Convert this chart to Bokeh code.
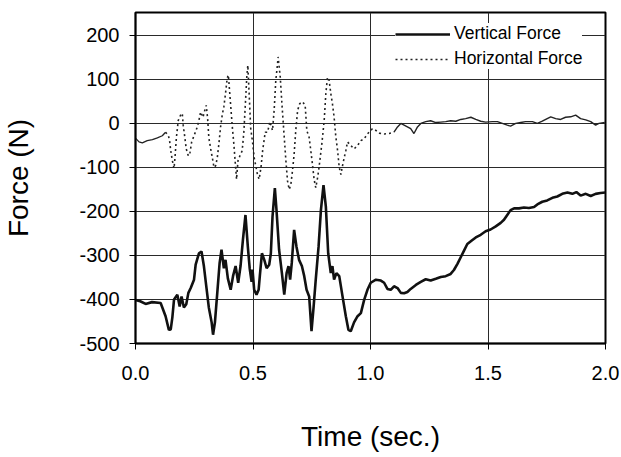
from bokeh.plotting import figure
from bokeh.models import FixedTicker, Legend, LegendItem, Range1d
from bokeh.embed import file_html
from bokeh.resources import INLINE
import numpy as np

# ---------------- data ----------------
vert_t = [0.000, 0.020, 0.043, 0.070, 0.107, 0.128, 0.142, 0.150, 0.157, 0.164, 0.178,
          0.188, 0.196, 0.206, 0.216, 0.225, 0.235, 0.249, 0.256, 0.270, 0.281, 0.291,
          0.301, 0.312, 0.324, 0.330, 0.338, 0.348, 0.358, 0.366, 0.376, 0.383, 0.393,
          0.405, 0.415, 0.426, 0.437, 0.447, 0.457, 0.468, 0.478, 0.486, 0.494, 0.498,
          0.505, 0.515, 0.524, 0.529, 0.538, 0.548, 0.558, 0.569, 0.576, 0.583, 0.593,
          0.600, 0.611, 0.623, 0.633, 0.643, 0.651, 0.658, 0.665, 0.675, 0.685, 0.696,
          0.708, 0.718, 0.728, 0.739, 0.749, 0.758, 0.767, 0.779, 0.789, 0.800, 0.810,
          0.820, 0.831, 0.838, 0.845, 0.855, 0.867, 0.881, 0.895, 0.906, 0.916, 0.930,
          0.945, 0.959, 0.973, 0.987, 1.001, 1.023, 1.044, 1.058, 1.072, 1.086, 1.100,
          1.115, 1.129, 1.143, 1.157, 1.171, 1.193, 1.214, 1.235, 1.256, 1.278, 1.299,
          1.320, 1.341, 1.355, 1.370, 1.384, 1.398, 1.412, 1.431, 1.448, 1.469, 1.490,
          1.511, 1.533, 1.554, 1.568, 1.582, 1.596, 1.611, 1.632, 1.653, 1.674, 1.696,
          1.710, 1.731, 1.752, 1.774, 1.795, 1.816, 1.838, 1.859, 1.876, 1.894, 1.916,
          1.937, 1.958, 1.979, 2.000]
vert_f = [-401, -404, -410, -406, -408, -438, -469, -468, -440, -400, -389,
          -416, -393, -418, -411, -385, -374, -355, -321, -295, -291, -324,
          -369, -418, -452, -480, -452, -385, -317, -287, -329, -310, -352,
          -378, -347, -324, -362, -324, -265, -208, -280, -330, -360, -332,
          -378, -389, -378, -347, -295, -310, -329, -321, -295, -212, -147,
          -197, -287, -340, -389, -340, -324, -355, -317, -242, -280, -310,
          -324, -347, -378, -393, -472, -416, -355, -280, -197, -140, -189,
          -295, -340, -324, -355, -340, -347, -393, -438, -469, -472, -452,
          -438, -431, -401, -378, -362, -355, -357, -362, -376, -378, -370,
          -374, -385, -386, -383, -376, -367, -360, -354, -357, -353, -349,
          -347, -342, -333, -319, -304, -289, -274, -266, -259, -253, -245,
          -241, -234, -226, -219, -208, -197, -193, -193, -191, -192, -190,
          -184, -178, -175, -169, -166, -160, -157, -160, -156, -164, -160,
          -165, -160, -158, -157]

horiz_t = [0.001, 0.015, 0.029, 0.050, 0.072, 0.093, 0.114, 0.128, 0.140, 0.145, 0.150,
           0.157, 0.164, 0.168, 0.174, 0.182, 0.192, 0.199, 0.203, 0.210, 0.216, 0.225,
           0.232, 0.239, 0.249, 0.263, 0.270, 0.277, 0.287, 0.295, 0.301, 0.307, 0.312,
           0.320, 0.327, 0.334, 0.341, 0.348, 0.355, 0.362, 0.369, 0.376, 0.383, 0.390,
           0.395, 0.400, 0.405, 0.412, 0.419, 0.426, 0.430, 0.436, 0.444, 0.454, 0.461,
           0.468, 0.474, 0.478, 0.486, 0.490, 0.498, 0.505, 0.519, 0.526, 0.534, 0.541,
           0.552, 0.562, 0.572, 0.583, 0.590, 0.597, 0.603, 0.607, 0.616, 0.623, 0.633,
           0.640, 0.647, 0.654, 0.661, 0.668, 0.675, 0.682, 0.690, 0.699, 0.711, 0.722,
           0.729, 0.739, 0.746, 0.753, 0.760, 0.767, 0.775, 0.781, 0.793, 0.803, 0.810,
           0.817, 0.824, 0.831, 0.838, 0.845, 0.852, 0.860, 0.867, 0.874, 0.881, 0.888,
           0.895, 0.902, 0.916, 0.930, 0.945, 0.959, 0.973, 0.987, 1.008, 1.023, 1.037,
           1.058, 1.079, 1.100, 1.115, 1.129, 1.143, 1.157, 1.171, 1.185, 1.200, 1.214,
           1.235, 1.256, 1.278, 1.299, 1.320, 1.341, 1.363, 1.384, 1.405, 1.427, 1.448,
           1.469, 1.490, 1.519, 1.540, 1.561, 1.582, 1.596, 1.618, 1.639, 1.660, 1.689,
           1.710, 1.731, 1.752, 1.767, 1.788, 1.809, 1.830, 1.852, 1.873, 1.894, 1.916,
           1.937, 1.958, 1.972, 1.997]
horiz_f = [-34, -42, -44, -39, -37, -33, -28, -20, -28, -39, -62,
           -85, -102, -78, -32, 7, 19, 23, -4, -32, -58, -74,
           -66, -42, -28, -8, 7, 26, 14, 30, 41, 11, -32,
           -58, -78, -100, -96, -78, -46, -8, 19, 38, 68, 102,
           110, 76, 41, -8, -50, -100, -127, -85, -74, -62, -20,
           49, 110, 132, 40, -10, -42, -78, -116, -127, -100, -62,
           -20, -20, 4, -16, 30, 98, 128, 151, 105, 45, -32,
           -85, -131, -150, -139, -108, -70, -16, 30, 45, 49, 41,
           -16, -32, -62, -93, -127, -146, -123, -100, -46, 7, 68,
           105, 98, 68, 45, 15, -28, -62, -100, -116, -96, -78,
           -62, -42, -50, -58, -50, -39, -35, -24, -12, -16, -22,
           -24, -23, -20, -8, 0, -4, -8, -12, -23, -8, 0,
           4, 6, 2, 3, 4, 6, 5, 9, 11, 14, 9,
           5, 3, 4, 4, 0, -4, -6, 0, 2, 4, 4,
           0, 5, 11, 15, 11, 9, 14, 15, 19, 11, 8,
           4, -4, 0, 2]

x_ticks = [0.0, 0.5, 1.0, 1.5, 2.0]
x_tick_labels = ["0.0", "0.5", "1.0", "1.5", "2.0"]
y_ticks = [-500, -400, -300, -200, -100, 0, 100, 200]
y_tick_labels = ["-500", "-400", "-300", "-200", "-100", "0", "100", "200"]
series_names = ["Vertical Force", "Horizontal Force"]
x_title = "Time (sec.)"
y_title = "Force (N)"

FONT = "Liberation Sans"

p = figure(width=621, height=457, output_backend="svg", toolbar_location=None,
           x_range=Range1d(0, 2), y_range=Range1d(-500, 252),
           min_border_left=134, min_border_right=16, min_border_top=12,
           min_border_bottom=114)
p.background_fill_color = "white"
p.border_fill_color = "white"
p.outline_line_color = "black"
p.outline_line_width = 2
p.outline_line_alpha = 1.0

for ax, ticks, labels in ((p.xaxis, x_ticks, x_tick_labels), (p.yaxis, y_ticks, y_tick_labels)):
    ax.ticker = FixedTicker(ticks=ticks)
    ax.major_label_overrides = {t: l for t, l in zip(ticks, labels)}
    ax.minor_tick_line_color = None
    ax.major_tick_in = 0
    ax.major_tick_out = 6
    ax.major_tick_line_color = "black"
    ax.axis_line_color = "black"
    ax.axis_line_width = 1.5
    ax.major_label_text_font = FONT
    ax.major_label_text_font_size = "20px"
    ax.major_label_text_color = "black"
    ax.axis_label_text_font = FONT
    ax.axis_label_text_font_size = "28px"
    ax.axis_label_text_font_style = "normal"
    ax.axis_label_text_color = "black"

p.xaxis.axis_label = x_title
p.yaxis.axis_label = y_title
p.xaxis.major_label_standoff = 16
p.xaxis.axis_label_standoff = 38
p.yaxis.major_label_standoff = 10
p.yaxis.axis_label_standoff = 42

p.xgrid.ticker = FixedTicker(ticks=x_ticks)
p.ygrid.ticker = FixedTicker(ticks=y_ticks)
for g in (p.xgrid, p.ygrid):
    g.grid_line_color = "#2a2a2a"
    g.grid_line_width = 1
    g.grid_line_alpha = 1.0

ht = np.array(horiz_t)
hf = np.array(horiz_f)
m_start = ht <= 0.128
m_mid = (ht >= 0.128) & (ht <= 1.10)
m_end = ht >= 1.10

r_v = p.line(vert_t, vert_f, line_color="#111111", line_width=2.6)
p.line(ht[m_start], hf[m_start], line_color="#222222", line_width=1.3)
r_h = p.line(ht[m_mid], hf[m_mid], line_color="#222222", line_width=1.6, line_dash="2 3")
p.line(ht[m_end], hf[m_end], line_color="#222222", line_width=1.4)

legend = Legend(items=[LegendItem(label=series_names[0], renderers=[r_v]),
                       LegendItem(label=series_names[1], renderers=[r_h])],
                location=(260, 274))
legend.background_fill_color = "white"
legend.background_fill_alpha = 1.0
legend.border_line_color = None
legend.padding = 10
legend.spacing = 4
legend.glyph_width = 55
legend.glyph_height = 20
legend.label_height = 20
legend.label_standoff = 4
legend.margin = 0
legend.label_text_font = FONT
legend.label_text_font_size = "17.5px"
legend.label_text_color = "black"
p.add_layout(legend, "center")

open("out.html", "w").write(file_html(p, INLINE))
